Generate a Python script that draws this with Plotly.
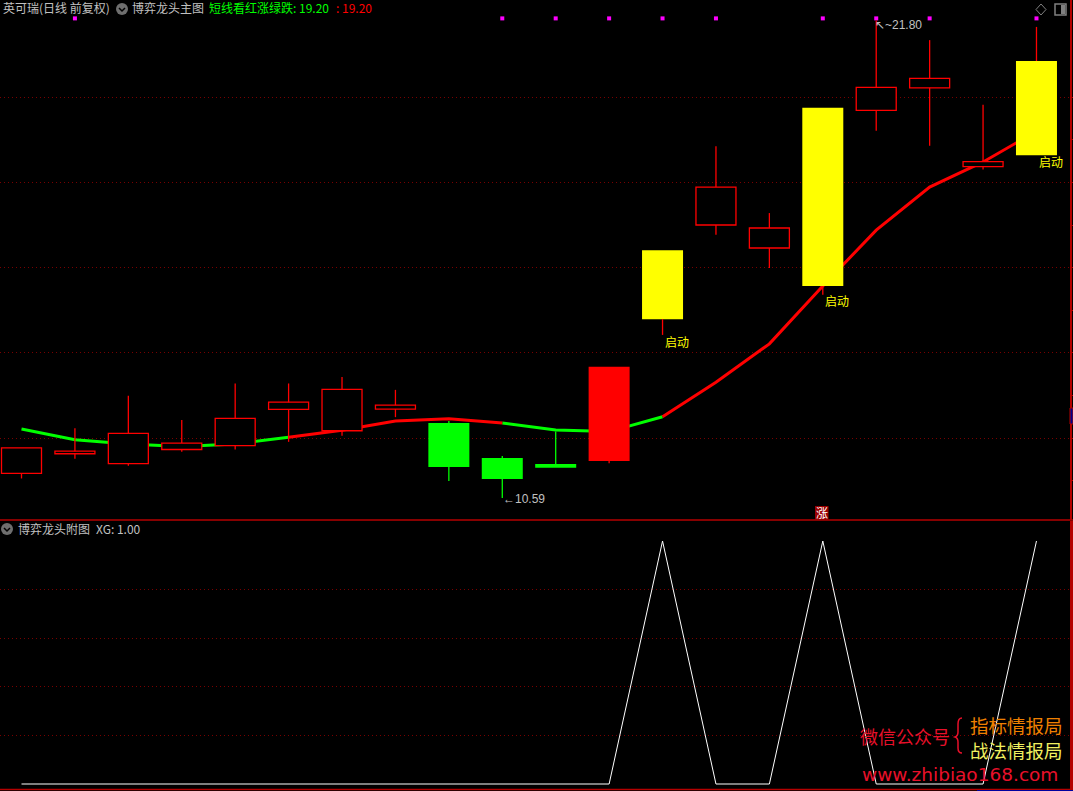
import plotly.graph_objects as go

W, H = 1073, 791

# ---- data -------------------------------------------------------------
days = list(range(20))
opens = [11.17, 11.63, 11.40, 11.73, 11.82, 12.67, 12.17, 12.68, 12.35, 11.53, 11.39, 11.46,
         14.79, 17.00, 16.46, 15.57, 19.69, 20.22, 18.37, 18.64]
closes = [11.77, 11.69, 12.11, 11.88, 12.46, 12.84, 13.14, 12.77, 11.32, 11.04, 11.30, 13.67,
          16.41, 17.89, 16.93, 19.75, 20.23, 20.44, 18.49, 20.85]
highs = [11.77, 12.23, 12.99, 12.42, 13.28, 13.28, 13.43, 13.13, 12.40, 11.58, 12.15, 13.67,
         16.41, 18.85, 17.28, 19.75, 21.80, 21.34, 19.82, 21.65]
lows = [11.05, 11.51, 11.35, 11.68, 11.73, 11.91, 12.05, 12.49, 10.99, 10.59, 11.30, 11.41,
        14.42, 16.77, 15.99, 15.36, 19.21, 18.86, 18.30, 18.64]
kinds = ["hollow"] * 8 + ["green"] * 3 + ["red", "start", "hollow", "hollow", "start",
                                         "hollow", "hollow", "hollow", "start"]
trend_line = [12.21, 11.96, 11.86, 11.80, 11.86, 12.02, 12.18, 12.40, 12.45, 12.35, 12.19,
              12.15, 12.50, 13.31, 14.21, 15.57, 16.88, 17.89, 18.48, 19.20]
green_spans = [(0, 5), (9, 12)]
red_spans = [(5, 9), (12, 19)]
signal_days = [1, 9, 10, 11, 12, 13, 15, 16, 17, 19]
signal_level = 21.85
xg = [0, 0, 0, 0, 0, 0, 0, 0, 0, 0, 0, 0, 1, 0, 0, 1, 0, 0, 0, 1]

# ---- style ------------------------------------------------------------
BODY_FILL = {"hollow": "#000000", "green": "#00ff00", "red": "#ff0000", "start": "#ffff00"}
BODY_EDGE = {"hollow": "#ff0000", "green": "#00ff00", "red": "#ff0000", "start": "#ffff00"}
FRAME = "#b40000"
GRID = "#780000"
GRAY = "#c0c0c0"
CJK = "Noto Sans CJK SC"
STEP = 53.42
X0 = 21.5

px = lambda x: x / W
py = lambda y: 1 - y / H


def spans_series(values, spans):
    out = [None] * len(values)
    for a, b in spans:
        for i in range(a, b + 1):
            out[i] = values[i]
    return out


def wick_series(kind_filter):
    xs, ys = [], []
    for i, k in enumerate(kinds):
        if not kind_filter(k):
            continue
        top, bot = max(opens[i], closes[i]), min(opens[i], closes[i])
        if highs[i] > top:
            xs += [i, i, None]
            ys += [highs[i], top, None]
        if lows[i] < bot:
            xs += [i, i, None]
            ys += [bot, lows[i], None]
    return xs, ys


fig = go.Figure()

# trend line sits under the candles (base y axis)
fig.add_trace(go.Scatter(x=days, y=spans_series(trend_line, green_spans), mode="lines",
                         line=dict(color="#00ff00", width=3), xaxis="x", yaxis="y",
                         showlegend=False, connectgaps=False))
fig.add_trace(go.Scatter(x=days, y=spans_series(trend_line, red_spans), mode="lines",
                         line=dict(color="#ff0000", width=3), xaxis="x", yaxis="y",
                         showlegend=False, connectgaps=False))
fig.add_trace(go.Scatter(x=signal_days, y=[signal_level] * len(signal_days), mode="markers",
                         marker=dict(color="#ff00ff", size=4, symbol="square"),
                         xaxis="x", yaxis="y", showlegend=False))

# candles on an overlaying axis so that they paint above the trend line
fig.add_trace(go.Bar(
    x=days,
    y=[abs(c - o) for o, c in zip(opens, closes)],
    base=[min(o, c) for o, c in zip(opens, closes)],
    width=[40 / STEP if k == "hollow" else 41 / STEP for k in kinds],
    marker=dict(color=[BODY_FILL[k] for k in kinds],
                line=dict(color=[BODY_EDGE[k] for k in kinds],
                          width=[1.3 if k == "hollow" else 0 for k in kinds])),
    xaxis="x", yaxis="y2", showlegend=False))
wx, wy = wick_series(lambda k: k != "green")
fig.add_trace(go.Scatter(x=wx, y=wy, mode="lines", line=dict(color="#ff0000", width=1.3),
                         xaxis="x", yaxis="y2", showlegend=False))
wx, wy = wick_series(lambda k: k == "green")
fig.add_trace(go.Scatter(x=wx, y=wy, mode="lines", line=dict(color="#00ff00", width=1.3),
                         xaxis="x", yaxis="y2", showlegend=False))

# lower pane
fig.add_trace(go.Scatter(x=days, y=xg, mode="lines", line=dict(color="#ffffff", width=1),
                         xaxis="x2", yaxis="y3", showlegend=False))

x_range = [-X0 / STEP, (1070 - X0) / STEP]
main_range = [12 - 82 / 42.6, 12 + 438 / 42.6]
low_range = [-5 / 243, 263 / 243]
main_dom = [py(520), 1]
low_dom = [py(789), py(521)]
x_dom = [0, px(1070)]

fig.update_layout(
    width=W, height=H, autosize=False,
    margin=dict(l=0, r=0, t=0, b=0),
    paper_bgcolor="#000000", plot_bgcolor="#000000",
    barmode="overlay", showlegend=False,
    font=dict(family=CJK, color=GRAY, size=12),
    xaxis=dict(domain=x_dom, range=x_range, visible=False, fixedrange=True),
    xaxis2=dict(domain=x_dom, range=x_range, visible=False, anchor="y3", fixedrange=True),
    yaxis=dict(domain=main_dom, range=main_range, side="right", anchor="x",
               tickmode="array", tickvals=[12, 14, 16, 18, 20], showticklabels=False,
               ticks="outside", ticklen=3, tickcolor=FRAME, showgrid=True, gridcolor=GRID,
               griddash="1px,3px", gridwidth=1, zeroline=False, showline=True,
               linecolor=FRAME, linewidth=1.5,
               minor=dict(tickmode="array", tickvals=[11, 13, 15, 17, 19], ticks="outside",
                          ticklen=3, tickcolor=FRAME, showgrid=False)),
    yaxis2=dict(domain=main_dom, range=main_range, overlaying="y", side="right", visible=False),
    yaxis3=dict(domain=low_dom, range=low_range, side="right", anchor="x2",
                tickmode="array", tickvals=[0.2, 0.4, 0.6, 0.8], showticklabels=False,
                ticks="outside", ticklen=3, tickcolor=FRAME, showgrid=True, gridcolor=GRID,
                griddash="1px,3px", gridwidth=1, zeroline=False, showline=True,
                linecolor=FRAME, linewidth=3),
)


def text(x, y, s, color=GRAY, size=12, family=CJK, anchor="left"):
    fig.add_annotation(xref="paper", yref="paper", x=px(x - 1), y=py(y - 1), text=s,
                       showarrow=False, xanchor=anchor, yanchor="middle", align="left",
                       font=dict(color=color, size=size, family=family), borderpad=0)


def frame_line(x0, y0, x1, y1, color=FRAME, width=1):
    fig.add_shape(type="line", xref="paper", yref="paper", x0=px(x0), y0=py(y0), x1=px(x1),
                  y1=py(y1), line=dict(color=color, width=width))


def chevron_button(cx, cy):
    fig.add_shape(type="circle", xref="paper", yref="paper", x0=px(cx - 6), x1=px(cx + 6),
                  y0=py(cy + 6), y1=py(cy - 6), fillcolor="#6e6e6e", line=dict(width=0))
    fig.add_shape(type="path", xref="paper", yref="paper",
                  path=f"M {px(cx-3)} {py(cy-1)} L {px(cx)} {py(cy+2)} L {px(cx+3)} {py(cy-1)}",
                  line=dict(color="#000000", width=1.5))


# headers
text(3, 9, "英可瑞(日线 前复权)", size=12)
chevron_button(122, 9)
text(132, 9, "博弈龙头主图", size=12)
text(209, 9, "短线看红涨绿跌: 19.20", color="#00ff00", size=12)
text(336, 9, ": 19.20", color="#ff0000", size=12)
chevron_button(7, 529)
text(18, 529, "博弈龙头附图", size=12)
text(96, 529, "XG: 1.00", size=12)

# chart labels
text(503, 500, "←10.59", size=12, family="Liberation Sans")
text(875, 26.5, "↖~21.80", size=12, family="Liberation Sans")
text(665, 342, "启动", color="#ffff00", size=12)
text(825, 302, "启动", color="#ffff00", size=12)
text(1039, 162, "启动", color="#ffff00", size=12)
fig.add_shape(type="rect", xref="paper", yref="paper", x0=px(815), x1=px(828.5), y0=py(519.5),
              y1=py(506), fillcolor="#9a0000", line=dict(width=0))
text(822.5, 513.5, "涨", color="#ffffff", size=12, anchor="center")

# frame
frame_line(0, 520, W, 520, width=1.5)
frame_line(0, 789.5, W, 789.5, width=1.5)
frame_line(977, 790.5, W, 790.5, color="#0000a0", width=1)

# top-right icons
fig.add_shape(type="path", xref="paper", yref="paper", line=dict(color="#808080", width=1),
              path=f"M {px(1041)} {py(4)} L {px(1046)} {py(9.5)} L {px(1041)} {py(15)} L {px(1036)} {py(9.5)} Z")
fig.add_shape(type="rect", xref="paper", yref="paper", x0=px(1055), x1=px(1066), y0=py(15),
              y1=py(4), line=dict(color="#808080", width=1.5))
fig.add_shape(type="rect", xref="paper", yref="paper", x0=px(1061), x1=px(1065), y0=py(14),
              y1=py(5), fillcolor="#808080", line=dict(width=0))

# right-edge marker
fig.add_shape(type="rect", xref="paper", yref="paper", x0=px(1070), x1=px(1073), y0=py(424),
              y1=py(408), fillcolor="#00008c", line=dict(color=FRAME, width=1))

# watermark
text(860, 737, "微信公众号", color="#e8102a", size=18)
fig.add_shape(type="path", xref="paper", yref="paper", line=dict(color="#e8102a", width=1.5),
              path=(f"M {px(962)} {py(718)} Q {px(958)} {py(718)} {px(958)} {py(724)} "
                    f"L {px(958)} {py(732)} Q {px(958)} {py(736)} {px(955)} {py(737)} "
                    f"Q {px(958)} {py(738)} {px(958)} {py(742)} L {px(958)} {py(748)} "
                    f"Q {px(958)} {py(753)} {px(962)} {py(753)}"))
text(970, 726, "指标情报局", color="#f08000", size=18.5)
text(970, 751, "战法情报局", color="#f0f060", size=18.5)
text(862, 775, "www.zhibiao168.com", color="#e8102a", size=18.5, family="DejaVu Sans")

fig.write_html("out.html", config={"displayModeBar": False, "staticPlot": True},
               post_script="document.body.style.margin='0';document.body.style.background='#000';"
                           "document.body.style.overflow='hidden';")
